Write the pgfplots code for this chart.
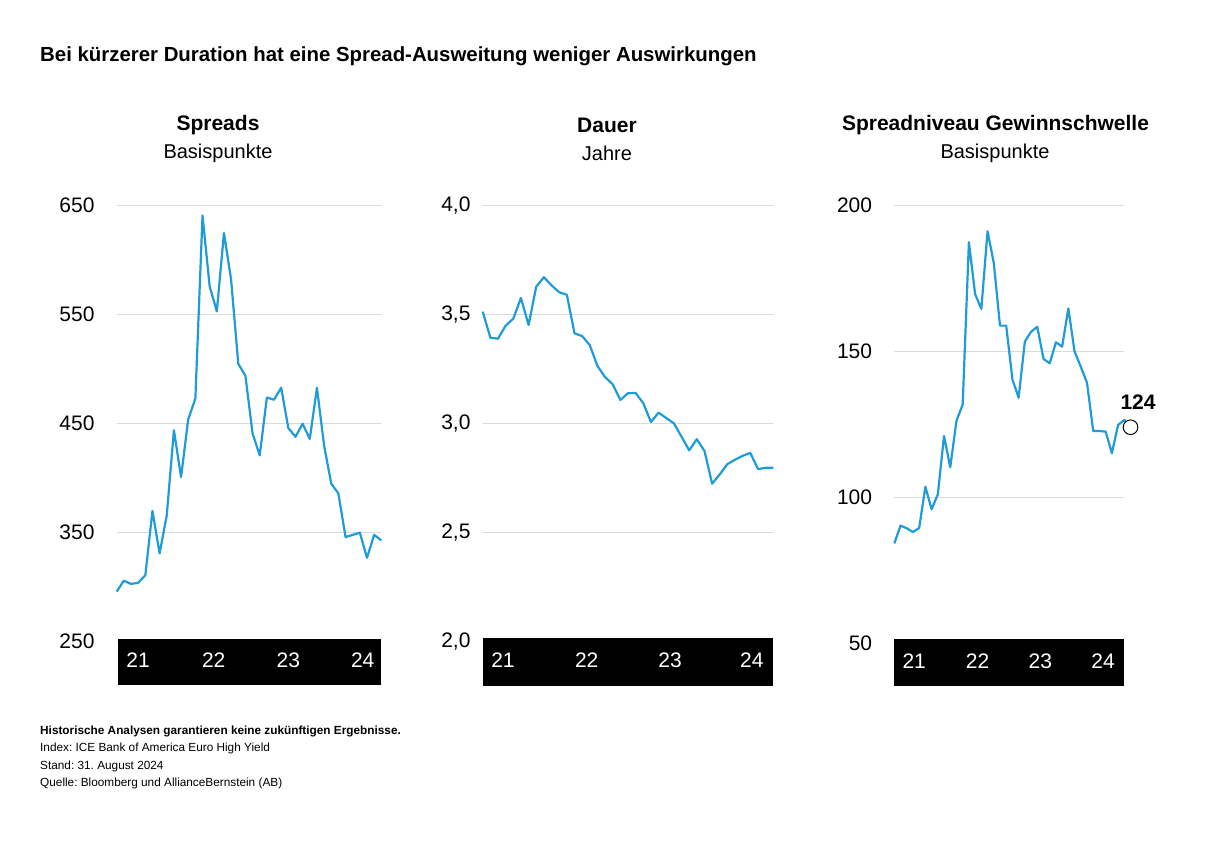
\documentclass[border=0pt]{standalone}
\usepackage{fontspec}
\setmainfont{Liberation Sans}
\usepackage{pgfplots}
\usepackage{pgfplotstable}
\pgfplotsset{compat=1.18}
\definecolor{lineblue}{HTML}{1F9BD8}
\definecolor{gridgray}{HTML}{DADADA}
\frenchspacing

\pgfplotstableread{
x y
0 296
1 306
2 303
3 304
4 311
5 370
6 331
7 366
8 444
9 401
10 454
11 473
12 641
13 576
14 553
15 625
16 582
17 505
18 494
19 441
20 421
21 474
22 472
23 483
24 446
25 438
26 450
27 436
28 483
29 430
30 395
31 386
32 346
33 348
34 350
35 327
36 348
37 343
}\spreads

\pgfplotstableread{
x y
0 3.512
1 3.393
2 3.388
3 3.448
4 3.480
5 3.575
6 3.451
7 3.627
8 3.670
9 3.633
10 3.601
11 3.590
12 3.413
13 3.400
14 3.359
15 3.263
16 3.212
17 3.179
18 3.107
19 3.138
20 3.139
21 3.092
22 3.006
23 3.049
24 3.024
25 3.000
26 2.939
27 2.876
28 2.927
29 2.873
30 2.723
31 2.766
32 2.813
33 2.833
34 2.851
35 2.864
36 2.790
37 2.796
38 2.796
}\dauer

\pgfplotstableread{
x y
0 84.2
1 90.3
2 89.4
3 88.1
4 89.5
5 103.6
6 95.9
7 101.0
8 121.0
9 110.3
10 126.2
11 131.8
12 187.4
13 169.6
14 164.5
15 191.1
16 180.3
17 158.8
18 158.8
19 140.4
20 134.1
21 153.3
22 156.7
23 158.4
24 147.4
25 145.9
26 153.1
27 151.6
28 164.7
29 149.9
30 144.7
31 139.2
32 122.7
33 122.7
34 122.5
35 115.1
36 124.8
37 126.5
38 124.0
}\breakeven

\pgfplotsset{
  panel/.style={
    scale only axis,
    anchor=south west,
    clip=false,
    axis line style={draw=none},
    major tick length=0pt,
    xtick=\empty,
    ymajorgrids,
    grid style={gridgray, line width=1.2pt},
    /pgf/number format/assume math mode=true,
    yticklabel style={font=\fontsize{21}{24}\selectfont, anchor=east, inner sep=0pt},
  },
  blueline/.style={lineblue, line width=2.2pt, no markers, line join=round},
}

\begin{document}
\begin{tikzpicture}[x=1pt,y=1pt]
\path (0,0) rectangle (1213,-851);

\node[anchor=west, inner sep=0pt, font=\bfseries\fontsize{20.4}{24}\selectfont] at (40,-56) {Bei kürzerer Duration hat eine Spread-Ausweitung weniger Auswirkungen};

% panel titles
\node[font=\bfseries\fontsize{21}{25}\selectfont] at (218,-125) {Spreads};
\node[font=\fontsize{20}{24}\selectfont] at (218,-153) {Basispunkte};
\node[font=\bfseries\fontsize{21}{25}\selectfont] at (607,-125) {Dauer};
\node[font=\fontsize{20}{24}\selectfont] at (607,-153) {Jahre};
\node[font=\bfseries\fontsize{21}{25}\selectfont] at (995.5,-125) {Spreadniveau Gewinnschwelle};
\node[font=\fontsize{20}{24}\selectfont] at (995,-153) {Basispunkte};

% Panel 1
\begin{axis}[panel, at={(116.7pt,-641.7pt)}, width=264.6pt, height=436pt,
  xmin=0, xmax=37, ymin=250, ymax=650, ytick={250,350,450,550,650},
  yticklabel style={xshift=-22pt}]
  \addplot[blueline] table[x=x,y=y] {\spreads};
  \fill[black] ([xshift=1.3pt,yshift=3pt]rel axis cs:0,0) rectangle ([yshift=-43.3pt]rel axis cs:1,0);
  \foreach \p/\l in {2.98/21,13.57/22,24.0/23,34.4/24}{
    \edef\tmp{\noexpand\node[white, font=\noexpand\fontsize{21}{24}\noexpand\selectfont] at ([yshift=-18.8pt]axis cs:\p,250) {\l};}\tmp
  }
\end{axis}

% Panel 2
\begin{axis}[panel, at={(482.7pt,-641.3pt)}, width=290.6pt, height=436pt,
  xmin=0, xmax=38, ymin=2, ymax=4, ytick={2,2.5,3,3.5,4},
  yticklabels={{2,0},{2,5},{3,0},{3,5},{4,0}},
  yticklabel style={xshift=-12pt}]
  \addplot[blueline] table[x=x,y=y] {\dauer};
  \fill[black] ([yshift=3pt]rel axis cs:0,0) rectangle ([yshift=-44.7pt]rel axis cs:1,0);
  \foreach \p/\l in {2.65/21,13.6/22,24.5/23,35.2/24}{
    \edef\tmp{\noexpand\node[white, font=\noexpand\fontsize{21}{24}\noexpand\selectfont] at ([yshift=-19pt]axis cs:\p,2) {\l};}\tmp
  }
\end{axis}

% Panel 3
\begin{axis}[panel, at={(894.3pt,-643.3pt)}, width=230pt, height=438pt,
  xmin=0, xmax=37, ymin=50, ymax=200, ytick={50,100,150,200},
  yticklabel style={xshift=-22pt}]
  \addplot[blueline] table[x=x,y=y] {\breakeven};
  \fill[black] ([yshift=4.3pt]rel axis cs:0,0) rectangle ([yshift=-42.7pt]rel axis cs:1,0);
  \foreach \p/\l in {3.2/21,13.4/22,23.5/23,33.6/24}{
    \edef\tmp{\noexpand\node[white, font=\noexpand\fontsize{21}{24}\noexpand\selectfont] at ([yshift=-17.7pt]axis cs:\p,50) {\l};}\tmp
  }
  \addplot[only marks, mark=*, mark size=7.3pt, mark options={fill=white, draw=black, line width=1pt}] coordinates {(38,124)};
  \node[font=\bfseries\fontsize{21}{24}\selectfont] at ([xshift=7.5pt,yshift=25pt]axis cs:38,124) {124};
\end{axis}

% footnotes
\node[anchor=west, inner sep=0pt, font=\bfseries\fontsize{11.8}{14}\selectfont] at (40,-731) {Historische Analysen garantieren keine zukünftigen Ergebnisse.};
\node[anchor=west, inner sep=0pt, font=\fontsize{11.8}{14}\selectfont] at (40,-748) {Index: ICE Bank of America Euro High Yield};
\node[anchor=west, inner sep=0pt, font=\fontsize{11.8}{14}\selectfont] at (40,-766) {Stand: 31. August 2024};
\node[anchor=west, inner sep=0pt, font=\fontsize{11.8}{14}\selectfont] at (40,-783) {Quelle: Bloomberg und AllianceBernstein (AB)};
\end{tikzpicture}
\end{document}
